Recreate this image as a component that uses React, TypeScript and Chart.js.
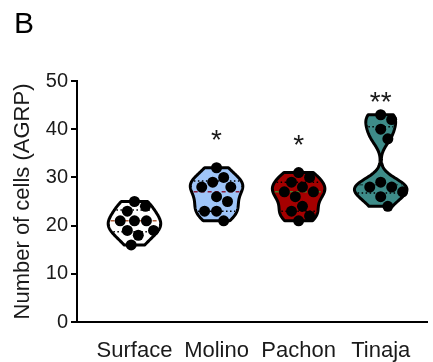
import React, { useEffect, useRef } from "react";
import { Chart, registerables } from "chart.js";
Chart.register(...registerables);

const categories = ["Surface", "Molino", "Pachon", "Tinaja"];
const surface = [25, 24, 23, 21, 21, 21, 19, 19, 18, 16];
const molino = [32, 30, 29, 28, 28, 26, 25, 23, 23, 21];
const pachon = [31, 30, 29, 28, 27, 27, 26, 24, 23, 22, 21];
const tinaja = [43, 42, 40, 38, 29, 28, 28, 27, 26, 24];
const groups = [surface, molino, pachon, tinaja];
const fillColors = ["#ffffff", "#9fc5f8", "#a50000", "#3e8c89"];
const medianColors = ["#b0603c", "#8a1a3a", "#4f7f2a", "#1f4d4a"];
const significance = ["", "*", "*", "**"];
const significanceY = [0, 38.6, 37.6, 46.5];
const yTicks = [0, 10, 20, 30, 40, 50];
const yTitle = "Number of cells (AGRP)";
const panelLabel = "B";

const FONT = "'Liberation Sans', Arial, sans-serif";
const TEXT = "#1a1a1a";
const BW = 1.8; // KDE bandwidth (value units)
const HALF = 0.32; // max violin half width (x units)

function kde(vals: number[], y: number, h: number) {
  return vals.reduce((s, v) => s + Math.exp(-0.5 * ((y - v) / h) ** 2), 0);
}

function quantile(sorted: number[], p: number) {
  const n = sorted.length;
  const pos = (n + 1) * p;
  const lo = Math.floor(pos);
  const f = pos - lo;
  if (lo < 1) return sorted[0];
  if (lo >= n) return sorted[n - 1];
  return sorted[lo - 1] + f * (sorted[lo] - sorted[lo - 1]);
}

function swarm(vals: number[], pxX: number, pxY: number, D: number) {
  const order = vals.map((_, i) => i).sort((a, b) => vals[b] - vals[a]);
  const placed: { x: number; y: number }[] = [];
  const off = new Array(vals.length).fill(0);
  for (const i of order) {
    const y = vals[i] * pxY;
    const cands = [0];
    for (const p of placed) {
      const dy = Math.abs(p.y - y);
      if (dy < D) {
        const dx = Math.sqrt(D * D - dy * dy);
        cands.push(p.x + dx, p.x - dx);
      }
    }
    cands.sort((a, b) => Math.abs(a) - Math.abs(b) || b - a);
    let chosen = 0;
    for (const c of cands) {
      if (placed.every((p) => (p.x - c) ** 2 + (p.y - y) ** 2 >= D * D - 1e-6)) {
        chosen = c;
        break;
      }
    }
    placed.push({ x: chosen, y });
    off[i] = chosen / pxX;
  }
  return off;
}

const violinPlugin = {
  id: "violins",
  beforeDatasetsDraw(chart: any) {
    const { ctx, scales } = chart;
    const xs = scales.x;
    const ys = scales.y;
    groups.forEach((vals, gi) => {
      const cx = gi + 1;
      const sorted = [...vals].sort((a, b) => a - b);
      const lo = sorted[0];
      const hi = sorted[sorted.length - 1];
      const steps = 80;
      const pts: { y: number; d: number }[] = [];
      let maxD = 0;
      for (let s = 0; s <= steps; s++) {
        const y = lo + ((hi - lo) * s) / steps;
        const d = kde(vals, y, BW);
        maxD = Math.max(maxD, d);
        pts.push({ y, d });
      }
      const halfAt = (y: number) => (HALF * kde(vals, y, BW)) / maxD;
      ctx.save();
      ctx.beginPath();
      pts.forEach((p, k) => {
        const px = xs.getPixelForValue(cx + (HALF * p.d) / maxD);
        const py = ys.getPixelForValue(p.y);
        if (k === 0) ctx.moveTo(px, py);
        else ctx.lineTo(px, py);
      });
      for (let k = pts.length - 1; k >= 0; k--) {
        const p = pts[k];
        ctx.lineTo(xs.getPixelForValue(cx - (HALF * p.d) / maxD), ys.getPixelForValue(p.y));
      }
      ctx.closePath();
      ctx.fillStyle = fillColors[gi];
      ctx.fill();
      ctx.lineWidth = 3;
      ctx.lineJoin = "round";
      ctx.strokeStyle = "#000";
      ctx.stroke();
      const lines = [
        { v: quantile(sorted, 0.5), color: medianColors[gi], dash: [4, 3] },
        { v: quantile(sorted, 0.25), color: "#000", dash: [1.5, 2.5] },
        { v: quantile(sorted, 0.75), color: "#000", dash: [1.5, 2.5] },
      ];
      lines.forEach((l) => {
        const hw = halfAt(l.v);
        ctx.beginPath();
        ctx.setLineDash(l.dash);
        ctx.lineWidth = 1.5;
        ctx.strokeStyle = l.color;
        const py = ys.getPixelForValue(l.v);
        ctx.moveTo(xs.getPixelForValue(cx - hw) + 2, py);
        ctx.lineTo(xs.getPixelForValue(cx + hw) - 2, py);
        ctx.stroke();
      });
      ctx.restore();
    });
  },
  afterDatasetsDraw(chart: any) {
    const { ctx, scales } = chart;
    ctx.save();
    ctx.fillStyle = TEXT;
    ctx.textAlign = "center";
    ctx.textBaseline = "alphabetic";
    ctx.font = `28px ${FONT}`;
    significance.forEach((s, i) => {
      if (!s) return;
      const px = scales.x.getPixelForValue(i + 1);
      const py = scales.y.getPixelForValue(significanceY[i]);
      ctx.fillText(s, px, py + 13);
    });
    ctx.textAlign = "left";
    ctx.font = `30px ${FONT}`;
    ctx.fillStyle = "#000";
    ctx.fillText(panelLabel, 14, 33);
    ctx.restore();
  },
};

export default function App() {
  const ref = useRef<HTMLCanvasElement>(null);
  useEffect(() => {
    if (!ref.current) return;
    const pxX = 82.3;
    const pxY = 4.82;
    const datasets = groups.map((vals, gi) => {
      const off = swarm(vals, pxX, pxY, 12);
      return {
        label: categories[gi],
        data: vals.map((v, j) => ({ x: gi + 1 + off[j], y: v })),
        pointRadius: 5.5,
        pointHoverRadius: 5.5,
        pointBackgroundColor: "#000",
        pointBorderWidth: 0,
        showLine: false,
      };
    });
    const chart = new Chart(ref.current, {
      type: "scatter",
      data: { datasets },
      plugins: [violinPlugin],
      options: {
        animation: false,
        responsive: false,
        events: [],
        layout: { padding: { top: 81, right: 0, left: 0, bottom: 0 } },
        plugins: { legend: { display: false }, tooltip: { enabled: false } },
        scales: {
          x: {
            type: "linear",
            min: 0.3,
            max: 4.57,
            afterBuildTicks: (s: any) => {
              s.ticks = categories.map((_, i) => ({ value: i + 1 }));
            },
            afterFit: (s: any) => {
              s.height = 40;
            },
            ticks: {
              callback: (v: any) => categories[Number(v) - 1] ?? "",
              font: { size: 22, family: FONT },
              color: TEXT,
              padding: 8,
              autoSkip: false,
              maxRotation: 0,
            },
            grid: { display: false },
            border: { color: "#000", width: 2 },
          },
          y: {
            min: 0,
            max: 50,
            afterBuildTicks: (s: any) => {
              s.ticks = yTicks.map((v) => ({ value: v }));
            },
            afterFit: (s: any) => {
              s.width = 77;
            },
            ticks: {
              font: { size: 20, family: FONT },
              color: TEXT,
              padding: 3,
            },
            grid: {
              drawOnChartArea: false,
              drawTicks: true,
              tickLength: 6,
              color: "#000",
              lineWidth: 2,
            },
            border: { color: "#000", width: 2 },
            title: {
              display: true,
              text: yTitle,
              font: { size: 22, family: FONT },
              color: TEXT,
              padding: { top: 10, bottom: 0 },
            },
          },
        },
      },
    } as any);
    return () => chart.destroy();
  }, []);
  return (
    <div style={{ position: "fixed", left: 0, top: 0, width: 433, height: 362, background: "#fff" }}>
      <canvas ref={ref} width={433} height={362} style={{ display: "block" }} />
    </div>
  );
}
